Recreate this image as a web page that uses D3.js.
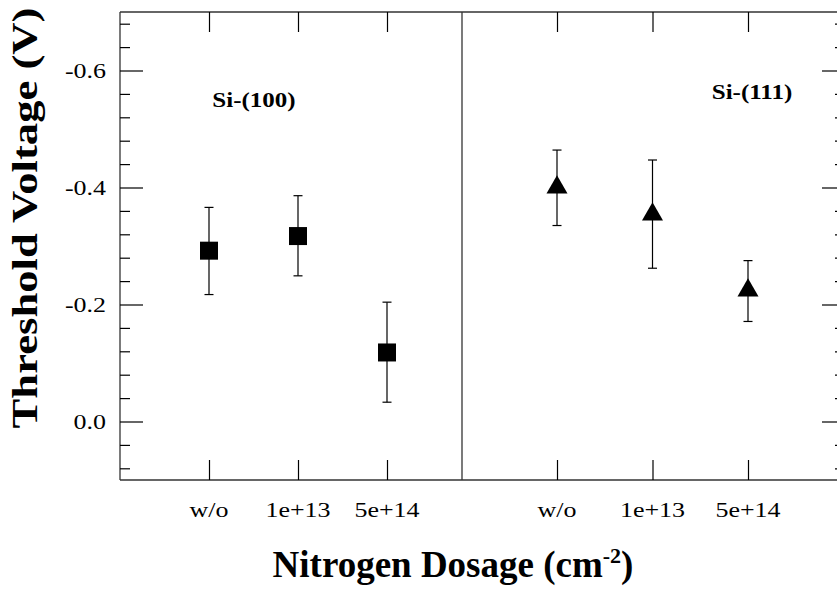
<!DOCTYPE html>
<html><head><meta charset="utf-8">
<script src="https://cdn.jsdelivr.net/npm/d3@7"></script>
<style>body{margin:0;background:#fff}svg{display:block}text{font-family:"Liberation Serif","Times New Roman",Times,serif}</style>
</head><body>
<svg id="c" width="837" height="590"></svg>
<script>
// ---- data ----
const categories = ["w/o", "1e+13", "5e+14"];
const si100 = [-0.292, -0.317, -0.118];
const si100Top = [-0.366, -0.386, -0.204];
const si100Bot = [-0.217, -0.249, -0.033];
const si111 = [-0.400, -0.354, -0.224];
const si111Top = [-0.464, -0.447, -0.275];
const si111Bot = [-0.335, -0.262, -0.171];
const yMajorTicks = [-0.6, -0.4, -0.2, 0.0];
const yTickLabels = ["-0.6", "-0.4", "-0.2", "0.0"];
const yMinorTicks = [-0.68, -0.64, -0.56, -0.52, -0.48, -0.44, -0.36, -0.32, -0.28, -0.24, -0.16, -0.12, -0.08, -0.04, 0.04, 0.08];
const panelLabels = ["Si-(100)", "Si-(111)"];

// ---- layout ----
const svg = d3.select("#c");
const L = 120, R = 845, T = 12, B = 480, MID = 462;
const serif = "Liberation Serif";

const y = d3.scaleLinear().domain([-0.7, 0.1]).range([T, B]);
const xL = d3.scalePoint().domain(categories).range([209, 387]);
const xR = d3.scalePoint().domain(categories).range([557, 748]);

// frame
const frame = svg.append("g").attr("stroke", "#333").attr("stroke-width", 1.3).attr("fill", "none");
frame.append("line").attr("x1", L).attr("x2", R).attr("y1", T).attr("y2", T);
frame.append("line").attr("x1", L).attr("x2", R).attr("y1", B).attr("y2", B);
frame.append("line").attr("x1", L).attr("x2", L).attr("y1", T).attr("y2", B);
frame.append("line").attr("x1", R).attr("x2", R).attr("y1", T).attr("y2", B);
frame.append("line").attr("x1", MID).attr("x2", MID).attr("y1", T).attr("y2", B);

function styleAxis(g) {
  g.select(".domain").remove();
  g.selectAll("text").remove();
  g.selectAll("line").attr("stroke", "#000").attr("stroke-width", 1.2);
}
// y axes
svg.append("g").attr("transform", `translate(${L},0)`)
  .call(d3.axisRight(y).tickValues(yMajorTicks).tickSize(23)).call(styleAxis);
svg.append("g").attr("transform", `translate(${L},0)`)
  .call(d3.axisRight(y).tickValues(yMinorTicks).tickSize(10)).call(styleAxis);
svg.append("g").attr("transform", `translate(${R},0)`)
  .call(d3.axisLeft(y).tickValues(yMajorTicks).tickSize(23)).call(styleAxis);
svg.append("g").attr("transform", `translate(${R},0)`)
  .call(d3.axisLeft(y).tickValues(yMinorTicks).tickSize(10)).call(styleAxis);
// x axes (top & bottom)
[xL, xR].forEach(xs => {
  svg.append("g").attr("transform", `translate(0,${T})`)
    .call(d3.axisBottom(xs).tickSize(20)).call(styleAxis);
  svg.append("g").attr("transform", `translate(0,${B})`)
    .call(d3.axisTop(xs).tickSize(20)).call(styleAxis);
});

function txt(sel) { return sel.style("font-family", serif).attr("fill", "#000"); }

// y tick labels
svg.append("g").selectAll("text").data(yMajorTicks).join("text")
  .attr("transform", (d) => `translate(106,${y(d) + 7.5}) scale(1.18,1)`)
  .attr("text-anchor", "end").attr("font-size", 22).call(txt)
  .text((d, i) => yTickLabels[i]);

// x tick labels
[xL, xR].forEach(xs => {
  svg.append("g").selectAll("text").data(categories).join("text")
    .attr("transform", d => `translate(${xs(d)},517) scale(1.18,1)`)
    .attr("text-anchor", "middle").attr("font-size", 22).call(txt)
    .text(d => d);
});

// error bars + markers
function series(xs, vals, tops, bots, sym, size) {
  const g = svg.append("g");
  const cap = 4.5;
  categories.forEach((c, i) => {
    const cx = xs(c);
    g.append("line").attr("x1", cx).attr("x2", cx).attr("y1", y(tops[i])).attr("y2", y(bots[i]))
      .attr("stroke", "#000").attr("stroke-width", 1.2);
    [tops[i], bots[i]].forEach(v => {
      g.append("line").attr("x1", cx - cap).attr("x2", cx + cap).attr("y1", y(v)).attr("y2", y(v))
        .attr("stroke", "#000").attr("stroke-width", 1.2);
    });
  });
  g.selectAll("path").data(vals).join("path")
    .attr("transform", (d, i) => `translate(${xs(categories[i])},${y(d)})`)
    .attr("d", d3.symbol(sym, size)()).attr("fill", "#000");
}
series(xL, si100, si100Top, si100Bot, d3.symbolSquare, 324);
series(xR, si111, si111Top, si111Bot, d3.symbolTriangle, 191);

// panel labels
svg.append("text").attr("transform", "translate(254,107) scale(1.25,1)")
  .attr("text-anchor", "middle").attr("font-weight", "bold").attr("font-size", 20).call(txt)
  .text(panelLabels[0]);
svg.append("text").attr("transform", "translate(752,99) scale(1.25,1)")
  .attr("text-anchor", "middle").attr("font-weight", "bold").attr("font-size", 20).call(txt)
  .text(panelLabels[1]);

// axis titles
svg.append("text").attr("transform", "translate(37,218) rotate(-90) scale(1.24,1)")
  .attr("text-anchor", "middle").attr("font-weight", "bold").attr("font-size", 36).call(txt)
  .text("Threshold Voltage (V)");
const xt = svg.append("text").attr("x", 453).attr("y", 577)
  .attr("text-anchor", "middle").attr("font-weight", "bold").attr("font-size", 37).call(txt);
xt.append("tspan").text("Nitrogen Dosage (cm");
xt.append("tspan").attr("dy", -14).attr("font-size", 22).text("-2");
xt.append("tspan").attr("dy", 14).text(")");
</script>
</body></html>
